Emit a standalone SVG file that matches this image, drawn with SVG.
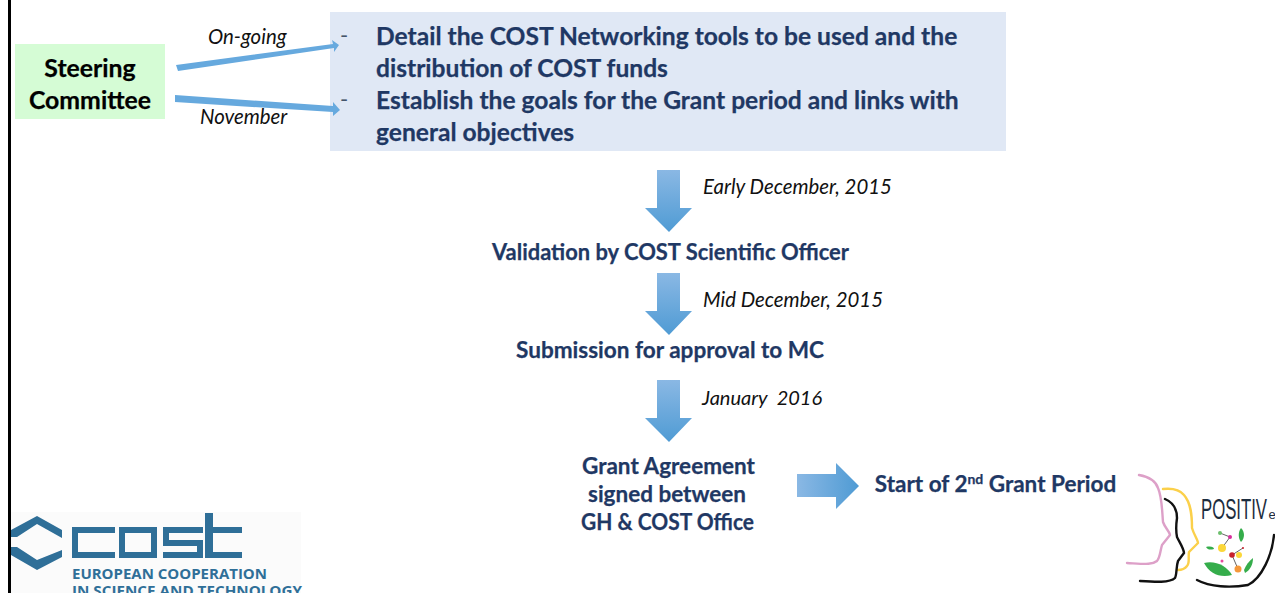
<svg xmlns="http://www.w3.org/2000/svg" width="1275" height="593" viewBox="0 0 1275 593">
<style>
text{font-family:Lato,"Open Sans","Liberation Sans",sans-serif}
.b{font-weight:700;fill:#1f3864;font-size:24.6px;stroke:#1f3864;stroke-width:.25px}
.k{font-weight:700;fill:#000;font-size:24.8px;text-anchor:middle;stroke:#000;stroke-width:.25px}
.i{font-style:italic;fill:#111;font-size:20.4px}
.m{font-weight:700;fill:#1f3864;font-size:22px;text-anchor:middle;stroke:#1f3864;stroke-width:.25px}
.d{fill:#44546a;font-size:22px}
.a{fill:url(#gv)}
.s{fill:#2f6f98}
.lt{font-family:"Open Sans",sans-serif;font-size:14.5px;font-weight:700;fill:#2f6f98}
.line{fill:none;stroke-linecap:round;stroke-linejoin:round;stroke-width:2.4px}
</style>
<defs>
<linearGradient id="gv" x1="0" y1="0" x2="0" y2="1"><stop offset="0" stop-color="#8ab8e4"/><stop offset="1" stop-color="#4f9bd4"/></linearGradient>
<linearGradient id="gh" x1="0" y1="0" x2="1" y2="0"><stop offset="0" stop-color="#8ab8e4"/><stop offset="1" stop-color="#4f9bd4"/></linearGradient>
</defs>
<rect width="1275" height="593" fill="#fff"/>

<g id="steering"><rect x="15" y="44" width="150" height="75" fill="#d5fcd5"/>
<text class="k" x="90" y="77">Steering</text><text class="k" x="90" y="109">Committee</text></g>

<g id="tasks"><rect x="330" y="12" width="676" height="139" fill="#e0e8f5"/>
<text class="d" x="340" y="43">-</text><text class="d" x="340" y="107">-</text>
<text class="b" x="376" y="45">Detail the COST Networking tools to be used and the</text>
<text class="b" x="376" y="77">distribution of COST funds</text>
<text class="b" x="376" y="109">Establish the goals for the Grant period and links with</text>
<text class="b" x="376" y="141">general objectives</text></g>

<g id="connectors">
<polygon fill="#66a9de" points="176,65 333,44 332,40 339,45 334,52 334,48 178,71"/>
<polygon fill="#66a9de" points="175,95 333,106 333,102 340,110 333,116 333,112 175,102"/>
<polygon class="a" points="657,170 680,170 680,208 692,208 669,232 645,208 657,208"/>
<polygon class="a" points="657,273 680,273 680,311 692,311 669,335 645,311 657,311"/>
<polygon class="a" points="657,380 680,380 680,418 692,418 669,442 645,418 657,418"/>
<polygon fill="url(#gh)" points="797,474 836,474 836,463 859,486 836,509 836,497 797,497"/>
</g>

<g id="labels">
<text class="i" x="208" y="44">On-going</text>
<text class="i" x="200" y="124">November</text>
<text class="i" x="703" y="194">Early December, 2015</text>
<text class="i" x="703" y="307">Mid December, 2015</text>
<text class="i" x="702" y="405" xml:space="preserve" style="font-size:20px">January  2016</text>
</g>

<g id="validation"><text class="m" x="670.500" y="260" textLength="357" lengthAdjust="spacingAndGlyphs">Validation by COST Scientific Officer</text></g>
<g id="submission"><text class="m" x="670" y="358" textLength="308" lengthAdjust="spacingAndGlyphs">Submission for approval to MC</text></g>
<g id="agreement"><text class="m" x="668.500" y="474" textLength="173" lengthAdjust="spacingAndGlyphs">Grant Agreement</text><text class="m" x="667" y="502" textLength="158" lengthAdjust="spacingAndGlyphs">signed between</text><text class="m" x="667.500" y="530" textLength="173" lengthAdjust="spacingAndGlyphs">GH &amp; COST Office</text></g>
<g id="start"><text class="m" x="995.500" y="492" style="font-size:22.5px">Start of 2<tspan font-size="14" dy="-8">nd</tspan><tspan dy="8"> Grant Period</tspan></text></g>

<g id="cost-logo">
<rect x="11" y="512" width="290" height="81" fill="#fbfbfb"/>
<path class="s" d="M11,530L37,516 62,530V538L37,524 17,537H11Z M11,547H17L37,560 62,550V557L37,570 11,555Z"/>
<path class="s" fill-rule="evenodd" d="M72,527H115V533H78V552H115V558H72Z M119,527H157V558H119Z M125,533V552H151V533Z M163,527H203V533H169V540H203V558H163V552H197V546H163Z M205,513H213V527H242V533H213V552H242V558H205Z"/>
<text class="lt" x="72" y="579" textLength="195" lengthAdjust="spacingAndGlyphs">EUROPEAN COOPERATION</text>
<text class="lt" x="72" y="596" textLength="230" lengthAdjust="spacingAndGlyphs">IN SCIENCE AND TECHNOLOGY</text>
</g>

<g id="positive-logo">
<path class="line" d="M1139,475C1150,477 1156,482 1158,488C1162,497 1162,510 1163,522C1165,528 1170,532 1170,535L1162,545C1160,552 1160,558 1157,561C1152,565 1145,564 1127,563" stroke="#dda0c8"/>
<path class="line" d="M1163,489C1172,488 1180,490 1184,495C1191,503 1192,515 1192,528C1194,535 1198,540 1198,543L1189,552C1188,558 1190,563 1187,566C1184,570 1181,570 1178,570" stroke="#fbd04a"/>
<path class="line" d="M1165,499C1172,502 1177,508 1177,518C1176,525 1176,532 1177,537C1180,543 1184,549 1184,553L1178,561C1176,567 1177,574 1175,578C1170,583 1155,582 1140,581" stroke="#111"/>
<path class="line" d="M1197,580C1210,587 1230,588 1248,585C1262,578 1272,555 1274,535" stroke="#111"/>
<text x="1201" y="519" font-size="29" fill="#1c2d3e" style="font-family:'Liberation Sans Narrow','Liberation Sans',sans-serif" textLength="66" lengthAdjust="spacingAndGlyphs">POSITIV</text>
<text x="1268.500" y="519" font-size="13" fill="#1c2d3e" style="font-family:'Liberation Sans',sans-serif">e</text>
<path d="M1204,563C1215,560 1227,566 1232,575C1220,578 1210,574 1204,563Z" fill="#35ad4b"/>
<path d="M1244,570C1246,565 1249,561 1253,558C1253,565 1250,570 1245,573Z" fill="#35ad4b"/>
<path d="M1241,528C1245,532 1245,538 1241,542C1238,538 1238,532 1241,528Z" fill="#35ad4b"/>
<path d="M1206,547C1211,546 1214,547 1214,549C1210,550 1208,550 1206,547Z" fill="#35ad4b"/>
<path d="M1220,533L1230,537 1222,548M1232,555L1243,548M1232,555L1238,569" stroke="#666" stroke-width="1" fill="none"/>
<circle cx="1220" cy="533" r="2" fill="#6cbf6c"/><circle cx="1230" cy="537" r="2" fill="#d62e9b"/>
<circle cx="1222" cy="548" r="4" fill="#fbd73a"/><circle cx="1232" cy="555" r="2.800" fill="#c8202c"/>
<circle cx="1239" cy="555" r="3" fill="#fbd73a"/><circle cx="1238" cy="569" r="3.500" fill="#f5983a"/>
<circle cx="1222" cy="561" r="1.500" fill="#e84aa0"/><circle cx="1243" cy="548" r="1" fill="#c8202c"/>
</g>
<rect x="8" y="0" width="3" height="593" fill="#000"/>
</svg>
